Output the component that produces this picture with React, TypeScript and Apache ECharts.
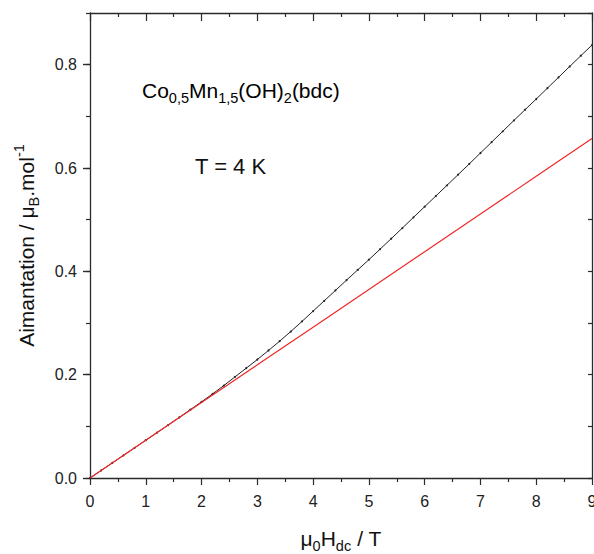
import React, { useEffect, useRef } from 'react';
import * as echarts from 'echarts';

// Measured data: field (T) and magnetization (muB/mol), every 0.2 T
const fieldT = [
  0, 0.2, 0.4, 0.6, 0.8, 1.0, 1.2, 1.4, 1.6, 1.8,
  2.0, 2.2, 2.4, 2.6, 2.8, 3.0, 3.2, 3.4, 3.6, 3.8,
  4.0, 4.2, 4.4, 4.6, 4.8, 5.0, 5.2, 5.4, 5.6, 5.8,
  6.0, 6.2, 6.4, 6.6, 6.8, 7.0, 7.2, 7.4, 7.6, 7.8,
  8.0, 8.2, 8.4, 8.6, 8.8, 9.0,
];
const magnetization = [
  0, 0.0146, 0.0292, 0.0438, 0.0584, 0.0731, 0.0878, 0.1025, 0.1173, 0.1323,
  0.1475, 0.163, 0.179, 0.1958, 0.2125, 0.2293, 0.2468, 0.2648, 0.2835, 0.303,
  0.323, 0.343, 0.363, 0.383, 0.4028, 0.4225, 0.4428, 0.4632, 0.4838, 0.5045,
  0.5252, 0.5458, 0.5665, 0.5872, 0.608, 0.629, 0.65, 0.671, 0.692, 0.7128,
  0.7335, 0.7545, 0.7755, 0.7965, 0.8173, 0.838,
];

// Linear (low-field) fit line
const fitField = [0, 1, 2, 3, 4, 5, 6, 7, 8, 9];
const fitMagnetization = [0, 0.073, 0.146, 0.219, 0.292, 0.365, 0.438, 0.511, 0.584, 0.657];

// Axis ticks
const yMajorTicks = [0, 0.2, 0.4, 0.6, 0.8];
const yTickLabels = ['0.0', '0.2', '0.4', '0.6', '0.8'];

const FONT = '"Liberation Sans", Arial, Helvetica, sans-serif';
const AX = '#2a2a2a';

export default function App() {
  const ref = useRef<HTMLDivElement>(null);

  useEffect(() => {
    if (!ref.current) return;
    const chart = echarts.init(ref.current, undefined, { renderer: 'svg' });

    const axisLine = { show: true, onZero: false, lineStyle: { color: AX, width: 1.3 } };
    const tickStyle = { color: AX, width: 1.2 };

    const yLabel = (v: number) => {
      const i = yMajorTicks.findIndex((t) => Math.abs(t - v) < 1e-6);
      return i >= 0 ? yTickLabels[i] : '';
    };

    const mainRich = {
      m: { fontSize: 21, fontFamily: FONT, color: '#111', lineHeight: 30, verticalAlign: 'middle' },
      s: { fontSize: 14.5, fontFamily: FONT, color: '#111', lineHeight: 10, verticalAlign: 'bottom' },
      p: { fontSize: 14.5, fontFamily: FONT, color: '#111', lineHeight: 12, verticalAlign: 'top' },
    };

    chart.setOption({
      animation: false,
      backgroundColor: '#ffffff',
      grid: { left: 90, right: 2, top: 13, bottom: 76, containLabel: false, outerBoundsMode: 'none' },
      xAxis: [
        {
          type: 'value',
          position: 'bottom',
          min: 0,
          max: 9,
          interval: 1,
          axisLine,
          axisTick: { show: true, length: 7, lineStyle: tickStyle },
          minorTick: { show: true, splitNumber: 2, length: 4, lineStyle: tickStyle },
          splitLine: { show: false },
          axisLabel: { fontSize: 16, color: '#222', fontFamily: FONT, margin: 15 },
          name: '{m|μ}{s|0}{m|H}{s|dc}{m| / T}',
          nameLocation: 'middle',
          nameGap: 45,
          nameTextStyle: { rich: mainRich },
        },
        {
          type: 'value',
          position: 'top',
          min: 0,
          max: 9,
          interval: 1,
          axisLine,
          axisTick: { show: true, inside: true, length: 8, lineStyle: tickStyle },
          minorTick: { show: true, splitNumber: 2, length: 4, lineStyle: tickStyle },
          splitLine: { show: false },
          axisLabel: { show: false },
        },
      ],
      yAxis: [
        {
          type: 'value',
          position: 'left',
          min: 0,
          max: 0.9,
          interval: 0.1,
          axisLine,
          axisTick: { show: true, length: 4, lineStyle: tickStyle },
          splitLine: { show: false },
          axisLabel: { fontSize: 16, color: '#222', fontFamily: FONT, margin: 13, formatter: yLabel },
          name: '{m|Aimantation / μ}{s|B}{m|.mol}{p|-1}',
          nameLocation: 'middle',
          nameRotate: 90,
          nameGap: 49,
          nameTextStyle: { rich: mainRich },
        },
        {
          type: 'value',
          position: 'left',
          min: 0,
          max: 0.9,
          interval: 0.1,
          axisLine: { show: false },
          axisTick: { show: true, length: 7, lineStyle: tickStyle, customValues: yMajorTicks },
          splitLine: { show: false },
          axisLabel: { show: false },
        },
        {
          type: 'value',
          position: 'right',
          min: 0,
          max: 0.9,
          interval: 0.1,
          axisLine,
          axisTick: { show: true, inside: true, length: 4, lineStyle: tickStyle },
          splitLine: { show: false },
          axisLabel: { show: false },
        },
        {
          type: 'value',
          position: 'right',
          min: 0,
          max: 0.9,
          interval: 0.1,
          axisLine: { show: false },
          axisTick: { show: true, inside: true, length: 7, lineStyle: tickStyle, customValues: yMajorTicks },
          splitLine: { show: false },
          axisLabel: { show: false },
        },
      ],
      graphic: [
        {
          type: 'text',
          left: 142,
          top: 80,
          style: {
            text: '{m|Co}{s|0,5}{m|Mn}{s|1,5}{m|(OH)}{s|2}{m|(bdc)}',
            rich: mainRich,
          },
        },
        {
          type: 'text',
          left: 195,
          top: 155,
          style: { text: 'T = 4 K', fontSize: 22, fontFamily: FONT, fill: '#111' },
        },
      ],
      series: [
        {
          type: 'line',
          name: 'fit',
          xAxisIndex: 0,
          yAxisIndex: 0,
          data: fitField.map((x, i) => [x, fitMagnetization[i]]),
          showSymbol: false,
          lineStyle: { color: '#f02828', width: 1.2 },
          z: 3,
        },
        {
          type: 'line',
          name: 'M(H)',
          xAxisIndex: 0,
          yAxisIndex: 0,
          data: fieldT.map((x, i) => [x, magnetization[i]]),
          showSymbol: true,
          symbol: 'circle',
          symbolSize: 2,
          itemStyle: { color: '#222' },
          lineStyle: { color: '#222', width: 1 },
          z: 2,
        },
      ],
    });

    return () => chart.dispose();
  }, []);

  return (
    <div
      ref={ref}
      style={{ position: 'fixed', left: 0, top: 0, width: 594, height: 554, background: '#fff' }}
    />
  );
}
